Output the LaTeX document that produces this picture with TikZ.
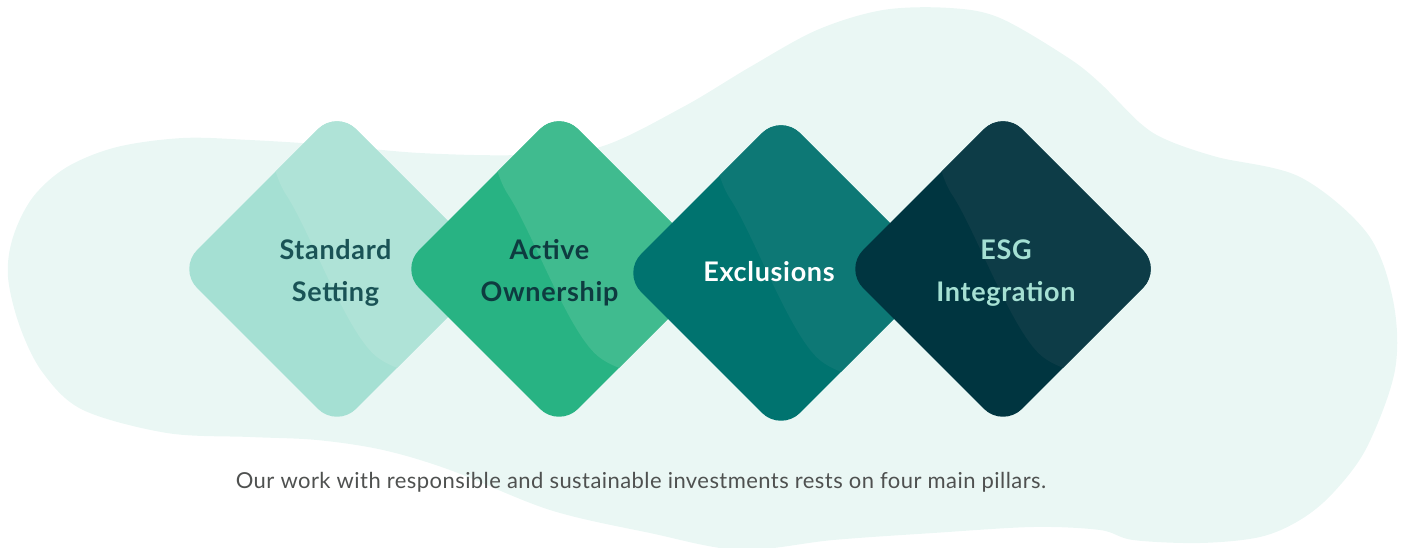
\documentclass[tikz,border=0pt]{standalone}
\usepackage{fontspec}
\setmainfont{Lato}
\usepackage{tikz}
\usetikzlibrary{shapes.geometric}
\definecolor{blob}{HTML}{EAF7F4}
\definecolor{mintdark}{HTML}{A5E0D3}
\definecolor{mintlight}{HTML}{AFE3D7}
\definecolor{greendark}{HTML}{28B383}
\definecolor{greenlight}{HTML}{40BB8F}
\definecolor{tealdark}{HTML}{00736F}
\definecolor{teallight}{HTML}{0D7875}
\definecolor{navydark}{HTML}{003540}
\definecolor{navylight}{HTML}{0D3C47}
\definecolor{inkteal}{HTML}{1A5356}
\definecolor{inknavy}{HTML}{0E3B40}
\definecolor{captiongray}{HTML}{4F5150}
\tikzset{
  pillar_node/.style 2 args = {shape=diamond, aspect=1, inner sep=0pt,
    minimum width=318pt, minimum height=318pt, rounded corners=27pt,
    fill=#1,
    path picture={\fill[#2, shift={(path picture bounding box.center)}]
      (-66,-97) .. controls (-28,-40) and (8,60) .. (58,104)
      -- (200,104) -- (200,-200) -- (-66,-200) -- cycle;}},% lighter right part
  pillar_label/.style = {text=#1, align=center, anchor=base, inner sep=0pt,
    font=\bfseries\fontsize{27}{42}\selectfont\addfontfeature{LetterSpace=2.5}},
  caption_text/.style = {text=captiongray, anchor=base,
    font=\fontsize{22}{26}\selectfont\addfontfeature{LetterSpace=2}}
}
\begin{document}
\begin{tikzpicture}[x=1pt, y=-1pt]
  \useasboundingbox (0,0) rectangle (1405,547);
  % background blob
  \fill[blob] plot[smooth cycle, tension=0.55] coordinates {
    (8,277) (13,237) (33,197) (67,167) (117,147) (183,138) (250,140)
    (330,145) (420,153) (520,155) (600,147) (683,107) (750,67) (817,30)
    (883,10) (950,8) (1000,18) (1067,57) (1100,83) (1140,123) (1167,140)
    (1217,157) (1300,177) (1367,233) (1393,300) (1395,370) (1367,447)
    (1333,493) (1300,520) (1260,537) (1200,543) (1133,540) (1100,530)
    (1033,527) (933,533) (833,540) (740,550) (650,533) (550,510)
    (450,470) (383,450) (317,440) (250,437) (167,433) (83,410) (43,373)
    (20,327)};
  % the four pillars, left to right
  \node [pillar_node={mintdark}{mintlight}] (standard) at (337,269) {};
  \node [pillar_node={greendark}{greenlight}] (active) at (559,269) {};
  \node [pillar_node={tealdark}{teallight}] (exclusions) at (781,273) {};
  \node [pillar_node={navydark}{navylight}] (esg) at (1003,269) {};
  % labels (base = last line)
  \node [pillar_label=inkteal] (standard_text) at (335.5,301) {Standard\\Setting};
  \node [pillar_label=inknavy] (active_text) at (549.5,301) {Active\\Ownership};
  \node [pillar_label=white] (exclusions_text) at (769,281.5) {Exclusions};
  \node [pillar_label=mintdark] (esg_text) at (1006,301) {ESG\\Integration};
  \node [caption_text] (caption) at (641,488)
    {Our work with responsible and sustainable investments rests on four main pillars.};
\end{tikzpicture}
\end{document}
